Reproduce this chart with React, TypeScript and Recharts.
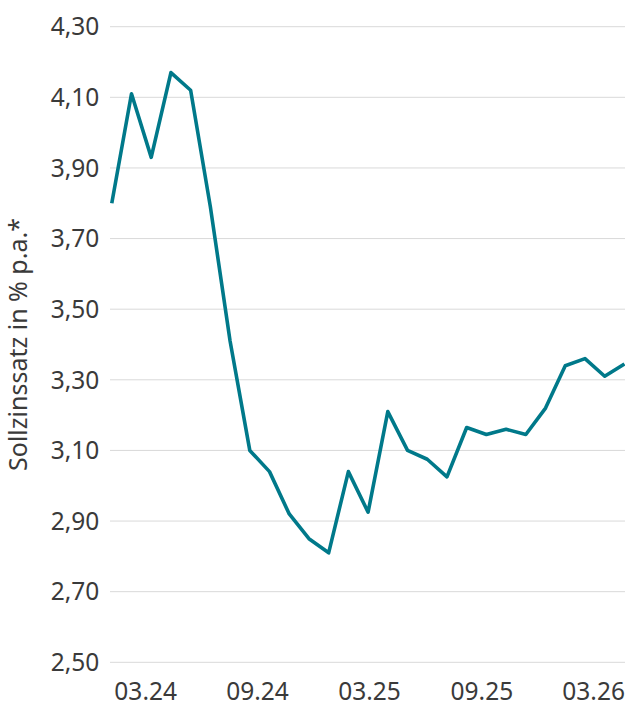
import React from "react";
import { LineChart, Line, XAxis, YAxis, CartesianGrid } from "recharts";

const rates: number[] = [
  3.8, 4.11, 3.93, 4.17, 4.12, 3.79, 3.41, 3.1, 3.04, 2.92, 2.85, 2.81, 3.04,
  2.925, 3.21, 3.1, 3.075, 3.025, 3.165, 3.145, 3.16, 3.145, 3.22, 3.34, 3.36,
  3.31, 3.345,
];

// x-axis tick labels and their positions (in observation-index units)
const xTickLabels: string[] = ["03.24", "09.24", "03.25", "09.25", "03.26"];
const xTickPositions: number[] = [1.72, 7.39, 13.07, 18.77, 24.44];

// y-axis ticks
const yTicks: number[] = [2.5, 2.7, 2.9, 3.1, 3.3, 3.5, 3.7, 3.9, 4.1, 4.3];

const yAxisTitle = "Sollzinssatz in % p.a.*";

const data = rates.map((v, i) => ({ idx: i, rate: v }));

const FONT = "'Noto Sans', 'Open Sans', sans-serif";
const TEXT_COLOR = "#3a3a3a";

const fmtY = (v: number) => v.toFixed(2).replace(".", ",");
const fmtX = (v: number) => {
  const k = xTickPositions.findIndex((p) => Math.abs(p - v) < 1e-6);
  return k >= 0 ? xTickLabels[k] : "";
};

const YTitle = (props: any) => {
  const vb = props.viewBox || { x: 0, y: 0, width: 0, height: 0 };
  const cx = 27;
  const cy = vb.y + vb.height / 2;
  return (
    <text
      x={cx}
      y={cy}
      transform={`rotate(-90 ${cx} ${cy})`}
      textAnchor="middle"
      fontFamily={FONT}
      fontSize={25}
      fill={TEXT_COLOR}
    >
      {yAxisTitle}
    </text>
  );
};

export default function App() {
  return (
    <div style={{ position: "absolute", left: 0, top: 0, width: 628, height: 715, background: "#fff" }}>
      <LineChart
        width={628}
        height={715}
        data={data}
        margin={{ top: 26.7, right: 3, left: 0, bottom: 0 }}
      >
        <CartesianGrid vertical={false} stroke="#d9d9d9" strokeWidth={1} />
        <XAxis
          dataKey="idx"
          type="number"
          domain={[-0.09, 26.03]}
          allowDataOverflow
          ticks={xTickPositions}
          tickFormatter={fmtX}
          interval={0}
          axisLine={false}
          tickLine={false}
          tickSize={0}
          tickMargin={20.3}
          height={52.7}
          tick={{ fontFamily: FONT, fontSize: 24.5, fill: TEXT_COLOR }}
        />
        <YAxis
          type="number"
          domain={[2.5, 4.3]}
          ticks={yTicks}
          tickFormatter={fmtY}
          interval={0}
          axisLine={false}
          tickLine={false}
          tickSize={0}
          tickMargin={10.7}
          width={110}
          tick={{ fontFamily: FONT, fontSize: 24.5, fill: TEXT_COLOR }}
          label={{ content: YTitle }}
        />
        <Line
          type="linear"
          dataKey="rate"
          stroke="#00798a"
          strokeWidth={3.6}
          strokeLinejoin="round"
          dot={false}
          activeDot={false}
          isAnimationActive={false}
        />
      </LineChart>
    </div>
  );
}
